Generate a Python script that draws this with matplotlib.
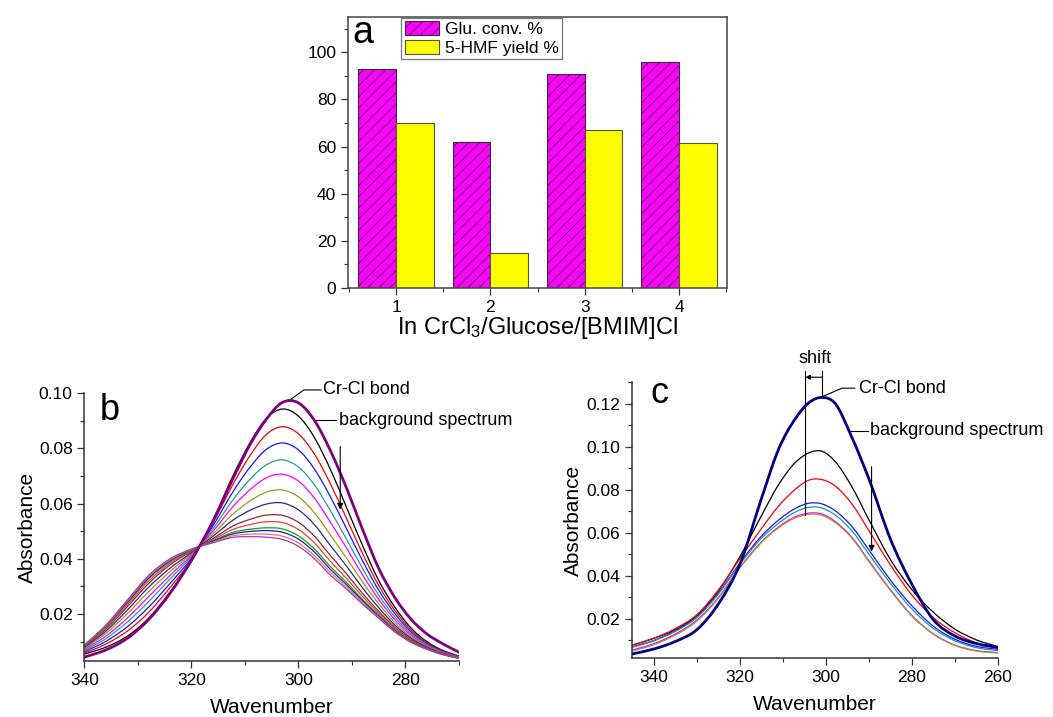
import matplotlib
matplotlib.use("Agg")
import matplotlib.pyplot as plt
from matplotlib.ticker import MultipleLocator
from matplotlib.path import Path
from matplotlib.patches import PathPatch

plt.rcParams['font.family'] = ['Liberation Sans', 'DejaVu Sans']
plt.rcParams['mathtext.default'] = 'regular'
plt.rcParams['hatch.linewidth'] = 0.6

# ---------------- data: panel a ----------------
a_categories = [1, 2, 3, 4]
a_glu_conv = [93, 62, 91, 96]
a_hmf_yield = [70, 15, 67, 61.5]
a_labels = ['Glu. conv. %', '5-HMF yield %']
a_xlabel = 'In CrCl$_3$/Glucose/[BMIM]Cl'

# ---------------- data: panel b ----------------
b_wn = [340, 336, 332, 328, 324, 320, 316, 312, 309, 306, 303, 300, 297, 294, 291, 288, 285, 282, 279, 276, 273, 270]
b_black = [0.0055, 0.0080, 0.0120, 0.0185, 0.0280, 0.0390, 0.0540, 0.0710, 0.0822, 0.0908, 0.0942, 0.0916, 0.0838, 0.0722, 0.0585, 0.0447, 0.0321, 0.0225, 0.0150, 0.0100, 0.0068, 0.0048]
b_red = [0.0059, 0.0091, 0.0138, 0.0206, 0.0296, 0.0396, 0.0529, 0.0678, 0.0775, 0.0850, 0.0878, 0.0852, 0.0778, 0.0670, 0.0545, 0.0418, 0.0303, 0.0213, 0.0143, 0.0096, 0.0066, 0.0047]
b_blue = [0.0064, 0.0101, 0.0154, 0.0225, 0.0311, 0.0402, 0.0519, 0.0650, 0.0733, 0.0796, 0.0819, 0.0794, 0.0724, 0.0623, 0.0508, 0.0392, 0.0286, 0.0202, 0.0136, 0.0093, 0.0064, 0.0046]
b_teal = [0.0068, 0.0111, 0.0171, 0.0245, 0.0327, 0.0408, 0.0508, 0.0620, 0.0689, 0.0740, 0.0758, 0.0732, 0.0667, 0.0573, 0.0470, 0.0364, 0.0268, 0.0190, 0.0130, 0.0089, 0.0062, 0.0045]
b_magenta = [0.0072, 0.0120, 0.0185, 0.0263, 0.0340, 0.0413, 0.0499, 0.0594, 0.0651, 0.0693, 0.0706, 0.0681, 0.0619, 0.0531, 0.0438, 0.0341, 0.0253, 0.0180, 0.0124, 0.0086, 0.0061, 0.0044]
b_olive = [0.0075, 0.0130, 0.0201, 0.0281, 0.0354, 0.0418, 0.0489, 0.0566, 0.0610, 0.0641, 0.0649, 0.0624, 0.0566, 0.0485, 0.0402, 0.0316, 0.0237, 0.0169, 0.0118, 0.0083, 0.0059, 0.0043]
b_navy = [0.0079, 0.0138, 0.0214, 0.0297, 0.0366, 0.0422, 0.0481, 0.0543, 0.0576, 0.0598, 0.0602, 0.0577, 0.0523, 0.0447, 0.0373, 0.0294, 0.0223, 0.0160, 0.0113, 0.0080, 0.0057, 0.0042]
b_wine = [0.0082, 0.0145, 0.0226, 0.0311, 0.0378, 0.0427, 0.0473, 0.0521, 0.0543, 0.0558, 0.0557, 0.0532, 0.0481, 0.0411, 0.0345, 0.0274, 0.0210, 0.0152, 0.0108, 0.0077, 0.0056, 0.0041]
b_red2 = [0.0084, 0.0150, 0.0233, 0.0320, 0.0384, 0.0429, 0.0469, 0.0508, 0.0524, 0.0534, 0.0531, 0.0506, 0.0457, 0.0390, 0.0328, 0.0263, 0.0203, 0.0147, 0.0105, 0.0076, 0.0055, 0.0041]
b_green = [0.0085, 0.0154, 0.0240, 0.0328, 0.0390, 0.0431, 0.0465, 0.0497, 0.0507, 0.0512, 0.0508, 0.0483, 0.0435, 0.0371, 0.0314, 0.0252, 0.0196, 0.0142, 0.0102, 0.0074, 0.0054, 0.0041]
b_navy2 = [0.0086, 0.0156, 0.0243, 0.0331, 0.0393, 0.0433, 0.0463, 0.0491, 0.0499, 0.0502, 0.0496, 0.0471, 0.0424, 0.0361, 0.0306, 0.0247, 0.0192, 0.0140, 0.0101, 0.0074, 0.0054, 0.0040]
b_salmon = [0.0087, 0.0158, 0.0247, 0.0336, 0.0397, 0.0434, 0.0460, 0.0484, 0.0489, 0.0489, 0.0482, 0.0457, 0.0411, 0.0350, 0.0297, 0.0240, 0.0188, 0.0137, 0.0099, 0.0073, 0.0053, 0.0040]
b_violet = [0.0088, 0.0160, 0.0250, 0.0340, 0.0400, 0.0435, 0.0458, 0.0478, 0.0480, 0.0478, 0.0470, 0.0445, 0.0400, 0.0340, 0.0290, 0.0235, 0.0185, 0.0135, 0.0098, 0.0072, 0.0053, 0.0040]
b_crcl = [0.0044, 0.0070, 0.0112, 0.0180, 0.0275, 0.0395, 0.0535, 0.0700, 0.0815, 0.0905, 0.0966, 0.0964, 0.0900, 0.0790, 0.0655, 0.0505, 0.0365, 0.0260, 0.0182, 0.0128, 0.0092, 0.0062]

# ---------------- data: panel c ----------------
c_wn = [345, 340, 335, 330, 325, 320, 315, 311, 307, 304, 301, 298, 294, 290, 285, 280, 275, 270, 265, 260]
c_crcl = [0.0037, 0.0060, 0.0095, 0.0150, 0.0270, 0.0455, 0.0760, 0.0990, 0.1135, 0.1205, 0.1230, 0.1205, 0.1045, 0.0850, 0.0570, 0.0360, 0.0195, 0.0120, 0.0085, 0.0067]
c_black = [0.0078, 0.0110, 0.0150, 0.0215, 0.0330, 0.0490, 0.0680, 0.0825, 0.0930, 0.0972, 0.0980, 0.0935, 0.0815, 0.0660, 0.0475, 0.0335, 0.0230, 0.0152, 0.0102, 0.0071]
c_red = [0.0078, 0.0110, 0.0155, 0.0220, 0.0335, 0.0480, 0.0620, 0.0725, 0.0805, 0.0845, 0.0848, 0.0820, 0.0735, 0.0610, 0.0450, 0.0310, 0.0205, 0.0135, 0.0088, 0.0063]
c_blue = [0.0070, 0.0100, 0.0145, 0.0210, 0.0320, 0.0460, 0.0585, 0.0660, 0.0715, 0.0738, 0.0735, 0.0705, 0.0630, 0.0520, 0.0380, 0.0260, 0.0165, 0.0105, 0.0072, 0.0058]
c_teal = [0.0068, 0.0098, 0.0142, 0.0207, 0.0316, 0.0455, 0.0575, 0.0645, 0.0698, 0.0719, 0.0716, 0.0685, 0.0610, 0.0500, 0.0365, 0.0245, 0.0155, 0.0098, 0.0066, 0.0052]
c_magenta = [0.0055, 0.0085, 0.0130, 0.0195, 0.0300, 0.0440, 0.0558, 0.0628, 0.0676, 0.0692, 0.0688, 0.0655, 0.0580, 0.0470, 0.0335, 0.0215, 0.0130, 0.0078, 0.0052, 0.0043]
c_olive = [0.0050, 0.0080, 0.0125, 0.0190, 0.0296, 0.0437, 0.0555, 0.0624, 0.0671, 0.0686, 0.0682, 0.0650, 0.0576, 0.0466, 0.0332, 0.0212, 0.0128, 0.0076, 0.0050, 0.0041]

TICK_FS = 12.5
LABEL_FS = 15
SPINE_C = '#333333'


def smooth_line(ax, xs, ys, color, lw, zorder=2):
    """Draw a smooth curve through the data points (cubic Bezier segments, data coordinates)."""
    n = len(xs)
    slopes = []
    for i in range(n):
        if i == 0:
            m = (ys[1] - ys[0]) / (xs[1] - xs[0])
        elif i == n - 1:
            m = (ys[-1] - ys[-2]) / (xs[-1] - xs[-2])
        else:
            h0 = xs[i] - xs[i - 1]
            h1 = xs[i + 1] - xs[i]
            d0 = (ys[i] - ys[i - 1]) / h0
            d1 = (ys[i + 1] - ys[i]) / h1
            m = (d0 * h1 + d1 * h0) / (h0 + h1)
        slopes.append(m)
    verts = [(xs[0], ys[0])]
    codes = [Path.MOVETO]
    for i in range(n - 1):
        h = xs[i + 1] - xs[i]
        verts += [(xs[i] + h / 3, ys[i] + slopes[i] * h / 3),
                  (xs[i + 1] - h / 3, ys[i + 1] - slopes[i + 1] * h / 3),
                  (xs[i + 1], ys[i + 1])]
        codes += [Path.CURVE4] * 3
    patch = PathPatch(Path(verts, codes), facecolor='none', edgecolor=color, lw=lw,
                      zorder=zorder, capstyle='round', joinstyle='round')
    ax.add_patch(patch)


fig = plt.figure(figsize=(10.53, 7.17), dpi=100)

# ================= panel a =================
axa = fig.add_axes([0.3305, 0.5983, 0.36, 0.378])
w = 0.4
xs = list(a_categories)
axa.bar([x - w / 2 for x in xs], a_glu_conv, width=w, color='#FF00FF', edgecolor='#3a2a3a',
        hatch='///', linewidth=0.8, label=a_labels[0])
axa.bar([x + w / 2 for x in xs], a_hmf_yield, width=w, color='#FFFF00', edgecolor='#555533',
        linewidth=0.8, label=a_labels[1])
axa.set_xlim(0.49, 4.51)
axa.set_ylim(0, 115)
axa.set_xticks(xs)
axa.xaxis.set_minor_locator(MultipleLocator(0.5))
axa.yaxis.set_major_locator(MultipleLocator(20))
axa.yaxis.set_minor_locator(MultipleLocator(10))
axa.tick_params(axis='both', which='major', direction='out', length=5, width=0.9,
                labelsize=TICK_FS, colors=SPINE_C, labelcolor='black')
axa.tick_params(axis='both', which='minor', direction='out', length=3, width=0.8, colors=SPINE_C)
for s in axa.spines.values():
    s.set_color('#444444')
    s.set_linewidth(1.1)
axa.set_xlabel(a_xlabel, fontsize=17, labelpad=0)
leg = axa.legend(loc='upper left', bbox_to_anchor=(0.138, 1.0), fontsize=TICK_FS, frameon=True,
                 fancybox=False, edgecolor='#555555', handlelength=2.0, handleheight=0.85,
                 labelspacing=0.15, borderpad=0.2, handletextpad=0.3, borderaxespad=0.05)
leg.get_frame().set_linewidth(0.9)
axa.text(0.012, 0.905, 'a', transform=axa.transAxes, fontsize=27, va='baseline', ha='left')


def style_spectrum_axes(ax, ylabelpad):
    ax.spines['top'].set_visible(False)
    ax.spines['right'].set_visible(False)
    for s in ('left', 'bottom'):
        ax.spines[s].set_color(SPINE_C)
        ax.spines[s].set_linewidth(1.1)
    ax.xaxis.set_major_locator(MultipleLocator(20))
    ax.xaxis.set_minor_locator(MultipleLocator(10))
    ax.yaxis.set_major_locator(MultipleLocator(0.02))
    ax.yaxis.set_minor_locator(MultipleLocator(0.01))
    ax.yaxis.set_major_formatter(plt.FuncFormatter(lambda v, p: f'{v:.2f}'))
    ax.tick_params(axis='both', which='major', direction='out', length=5, width=0.9,
                   labelsize=TICK_FS, colors=SPINE_C, labelcolor='black')
    ax.tick_params(axis='both', which='minor', direction='out', length=3, width=0.8, colors=SPINE_C)
    ax.set_xlabel('Wavenumber', fontsize=LABEL_FS, labelpad=7.5)
    ax.set_ylabel('Absorbance', fontsize=LABEL_FS, labelpad=ylabelpad)


ARROW = dict(arrowstyle='-|>', color='black', lw=0.8, mutation_scale=9, shrinkA=0, shrinkB=0)

# ================= panel b =================
axb = fig.add_axes([0.0802, 0.0781, 0.3557, 0.3738])
b_series = [
    (b_black, '#000000'), (b_red, '#FF0000'), (b_blue, '#1515FF'), (b_teal, '#2A9A9A'),
    (b_magenta, '#FF00FF'), (b_olive, '#9A9A10'), (b_navy, '#2A2A90'), (b_wine, '#8E2A2A'),
    (b_red2, '#F03C3C'), (b_green, '#18A018'), (b_navy2, '#2020B0'), (b_salmon, '#F07070'),
    (b_violet, '#9A40A8'),
]
for ys, col in b_series:
    smooth_line(axb, b_wn, ys, col, 0.9)
smooth_line(axb, b_wn, b_crcl, '#800080', 2.0, zorder=3)
axb.set_xlim(340, 270)
axb.set_ylim(0.003, 0.100)
style_spectrum_axes(axb, 1.0)
axb.text(0.04, 0.899, 'b', transform=axb.transAxes, fontsize=26, va='baseline', ha='left')
# annotations
axb.plot([295.8, 299.0, 301.8], [0.1011, 0.1011, 0.0972], color='black', lw=0.8, clip_on=False)
axb.text(295.4, 0.1011, 'Cr-Cl bond', fontsize=13, va='center', ha='left')
axb.plot([293.0, 297.1], [0.0902, 0.0902], color='black', lw=0.8, clip_on=False)
axb.text(292.5, 0.0902, 'background spectrum', fontsize=13, va='center', ha='left', clip_on=False)
axb.annotate('', xy=(292.2, 0.0578), xytext=(292.2, 0.0806), arrowprops=ARROW)

# ================= panel c =================
axc = fig.add_axes([0.6002, 0.0823, 0.3476, 0.385])
c_series = [
    (c_black, '#000000'), (c_red, '#FF0000'), (c_blue, '#1515FF'), (c_teal, '#1A9A9A'),
    (c_magenta, '#FF00FF'), (c_olive, '#9A9A30'),
]
for ys, col in c_series:
    smooth_line(axc, c_wn, ys, col, 0.9)
smooth_line(axc, c_wn, c_crcl, '#000080', 2.0, zorder=3)
axc.set_xlim(345.1, 260)
axc.set_ylim(0.0018, 0.1302)
style_spectrum_axes(axc, 2.5)
axc.text(0.05, 0.924, 'c', transform=axc.transAxes, fontsize=26, va='baseline', ha='left')
# shift marker
axc.plot([304.8, 304.8], [0.1352, 0.0684], color='black', lw=0.8, clip_on=False)
axc.plot([300.9, 300.9], [0.1352, 0.1234], color='black', lw=0.8, clip_on=False)
axc.annotate('', xy=(304.8, 0.1324), xytext=(300.9, 0.1324),
             arrowprops=dict(arrowstyle='-|>', color='black', lw=0.8, mutation_scale=7,
                             shrinkA=0, shrinkB=0), annotation_clip=False)
axc.text(302.6, 0.1372, 'shift', fontsize=13, va='bottom', ha='center')
axc.plot([293.3, 296.3, 300.8], [0.1273, 0.1273, 0.1234], color='black', lw=0.8, clip_on=False)
axc.text(292.3, 0.1273, 'Cr-Cl bond', fontsize=13, va='center', ha='left')
axc.plot([290.2, 294.8], [0.1076, 0.1076], color='black', lw=0.8, clip_on=False)
axc.text(289.8, 0.1076, 'background spectrum', fontsize=13, va='center', ha='left', clip_on=False)
axc.annotate('', xy=(289.4, 0.0513), xytext=(289.4, 0.0908), arrowprops=ARROW)

fig.savefig('out.png', dpi=100, facecolor='white')
